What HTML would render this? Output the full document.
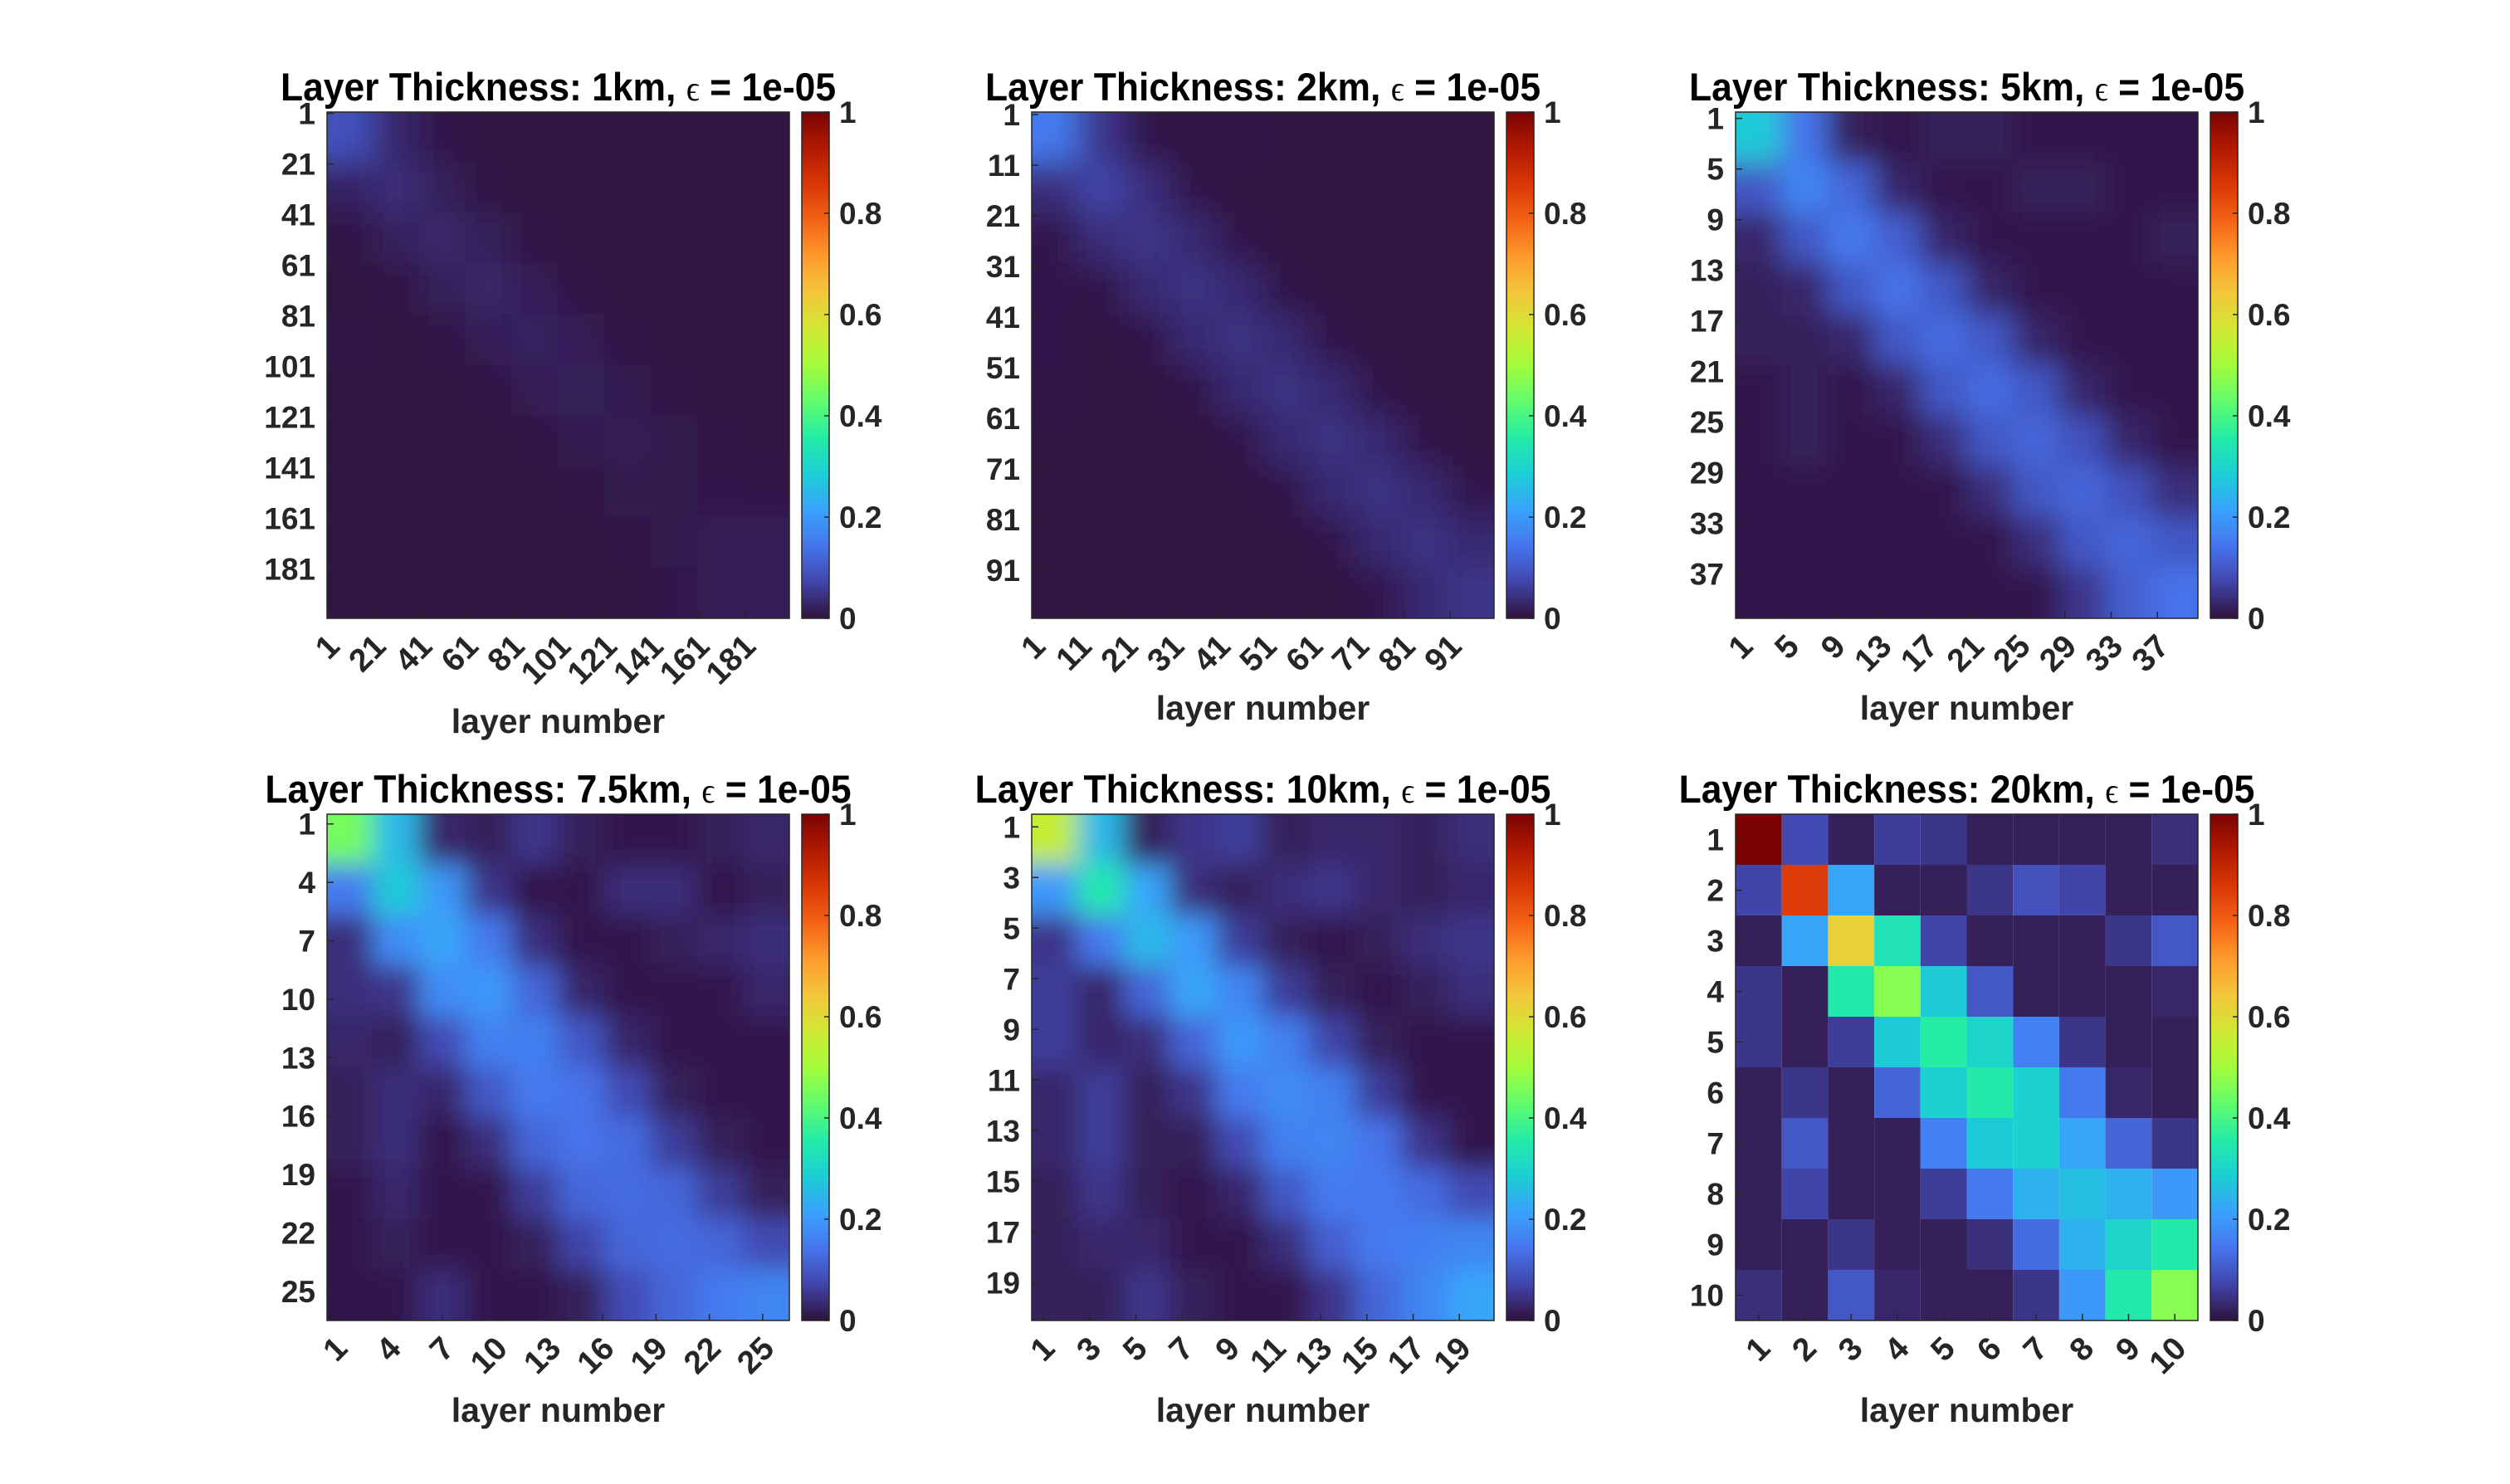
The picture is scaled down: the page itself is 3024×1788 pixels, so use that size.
<!DOCTYPE html>
<html><head><meta charset="utf-8"><style>
html,body{margin:0;padding:0;background:#fff;}
svg{display:block;font-family:"Liberation Sans",Arial,sans-serif;}
</style></head><body>
<svg id="fig" width="3024" height="1788" viewBox="0 0 3024 1788" xmlns="http://www.w3.org/2000/svg">
<defs id="defs"></defs>
</svg>
<script>
// ---- data ----
const titles = ["1km","2km","5km","7.5km","10km","20km"];
const layerCounts = [200,100,40,26,20,10];
const tickLabels1 = [1,21,41,61,81,101,121,141,161,181];
const tickLabels2 = [1,11,21,31,41,51,61,71,81,91];
const tickLabels3 = [1,5,9,13,17,21,25,29,33,37];
const tickLabels4 = [1,4,7,10,13,16,19,22,25];
const tickLabels5y = [1,3,5,7,9,11,13,15,17,19];
const tickLabels5x = [1,3,5,7,9,11,13,15,17,19];
const tickLabels6 = [1,2,3,4,5,6,7,8,9,10];
const cbTicks = [0,0.2,0.4,0.6,0.8,1];
const cbTickLabels = ["0","0.2","0.4","0.6","0.8","1"];

const coarse1 = [
[0.09,0.03,0.008,0.005,0.005,0.005,0.005,0.005,0.005,0.005],
[0.025,0.04,0.02,0.006,0.005,0.005,0.005,0.005,0.005,0.005],
[0.006,0.022,0.03,0.02,0.006,0.005,0.005,0.005,0.005,0.005],
[0.005,0.006,0.02,0.028,0.018,0.006,0.005,0.005,0.005,0.005],
[0.006,0.005,0.006,0.018,0.025,0.016,0.006,0.005,0.005,0.005],
[0.005,0.005,0.005,0.006,0.016,0.02,0.014,0.006,0.005,0.005],
[0.005,0.005,0.005,0.005,0.006,0.014,0.015,0.012,0.006,0.005],
[0.005,0.005,0.005,0.005,0.005,0.006,0.012,0.012,0.01,0.008],
[0.005,0.005,0.005,0.005,0.005,0.005,0.006,0.012,0.016,0.016],
[0.005,0.005,0.005,0.005,0.005,0.005,0.005,0.01,0.016,0.016]];
const coarse2 = [
[0.15,0.05,0.01,0.005,0.01,0.005,0.005,0.005,0.005,0.005],
[0.04,0.07,0.04,0.008,0.005,0.005,0.005,0.005,0.005,0.005],
[0.01,0.04,0.05,0.035,0.008,0.005,0.005,0.005,0.005,0.005],
[0.01,0.008,0.035,0.045,0.035,0.008,0.005,0.005,0.005,0.005],
[0.01,0.005,0.008,0.035,0.045,0.035,0.008,0.005,0.005,0.005],
[0.008,0.005,0.005,0.008,0.035,0.045,0.035,0.008,0.005,0.005],
[0.005,0.005,0.005,0.005,0.008,0.035,0.045,0.035,0.008,0.005],
[0.005,0.005,0.005,0.005,0.005,0.008,0.035,0.045,0.035,0.01],
[0.005,0.005,0.005,0.005,0.005,0.005,0.01,0.035,0.045,0.035],
[0.005,0.005,0.005,0.005,0.005,0.005,0.005,0.01,0.035,0.05]];
const coarse3 = [
[0.28,0.14,0.02,0.01,0.02,0.02,0.01,0.01,0.01,0.01],
[0.10,0.17,0.12,0.03,0.01,0.01,0.02,0.02,0.01,0.01],
[0.03,0.10,0.15,0.11,0.03,0.01,0.01,0.01,0.01,0.02],
[0.02,0.03,0.10,0.14,0.10,0.03,0.01,0.01,0.01,0.01],
[0.02,0.02,0.03,0.10,0.13,0.10,0.03,0.01,0.01,0.01],
[0.01,0.02,0.01,0.03,0.10,0.13,0.10,0.03,0.01,0.01],
[0.01,0.02,0.01,0.01,0.04,0.10,0.12,0.09,0.03,0.01],
[0.01,0.01,0.01,0.01,0.01,0.04,0.10,0.12,0.09,0.04],
[0.01,0.01,0.01,0.01,0.01,0.01,0.04,0.10,0.12,0.10],
[0.01,0.01,0.01,0.01,0.01,0.01,0.01,0.05,0.11,0.14]];
const coarse4 = [
[0.45,0.25,0.03,0.02,0.05,0.02,0.01,0.01,0.02,0.03],
[0.15,0.28,0.20,0.05,0.01,0.01,0.04,0.04,0.01,0.02],
[0.04,0.18,0.22,0.15,0.04,0.01,0.01,0.02,0.03,0.04],
[0.04,0.05,0.18,0.20,0.12,0.03,0.01,0.01,0.01,0.03],
[0.03,0.02,0.08,0.16,0.16,0.10,0.03,0.01,0.01,0.01],
[0.02,0.04,0.03,0.10,0.15,0.14,0.08,0.02,0.01,0.01],
[0.02,0.04,0.01,0.04,0.12,0.14,0.13,0.06,0.02,0.01],
[0.01,0.03,0.01,0.01,0.06,0.12,0.13,0.12,0.06,0.02],
[0.01,0.02,0.01,0.01,0.02,0.07,0.12,0.13,0.12,0.08],
[0.01,0.01,0.04,0.01,0.01,0.02,0.08,0.12,0.15,0.17]];
const coarse5 = [
[0.55,0.25,0.02,0.05,0.06,0.02,0.03,0.03,0.02,0.04],
[0.20,0.35,0.22,0.04,0.02,0.04,0.05,0.03,0.02,0.03],
[0.05,0.15,0.25,0.20,0.06,0.02,0.01,0.02,0.04,0.05],
[0.06,0.03,0.12,0.22,0.17,0.06,0.02,0.01,0.02,0.04],
[0.06,0.03,0.04,0.12,0.20,0.16,0.07,0.02,0.01,0.01],
[0.03,0.06,0.02,0.05,0.15,0.18,0.16,0.06,0.01,0.01],
[0.03,0.06,0.02,0.02,0.08,0.16,0.17,0.14,0.05,0.01],
[0.02,0.05,0.02,0.01,0.03,0.10,0.15,0.15,0.13,0.08],
[0.02,0.03,0.03,0.01,0.01,0.04,0.11,0.15,0.16,0.17],
[0.02,0.02,0.05,0.02,0.01,0.01,0.05,0.12,0.17,0.22]];
const matrix6 = [
[1.00,0.08,0.02,0.06,0.05,0.02,0.02,0.02,0.02,0.04],
[0.07,0.85,0.22,0.02,0.02,0.05,0.09,0.07,0.02,0.02],
[0.02,0.22,0.62,0.33,0.07,0.02,0.02,0.02,0.05,0.10],
[0.05,0.02,0.35,0.47,0.28,0.10,0.02,0.02,0.02,0.03],
[0.05,0.02,0.06,0.28,0.36,0.30,0.16,0.05,0.02,0.02],
[0.02,0.05,0.02,0.12,0.29,0.35,0.29,0.15,0.03,0.02],
[0.02,0.10,0.02,0.02,0.16,0.28,0.29,0.22,0.12,0.05],
[0.02,0.07,0.02,0.02,0.06,0.15,0.24,0.26,0.24,0.20],
[0.02,0.02,0.05,0.02,0.02,0.04,0.13,0.24,0.30,0.35],
[0.04,0.02,0.10,0.03,0.02,0.02,0.05,0.20,0.35,0.47]];

const matrices = [coarse1,coarse2,coarse3,coarse4,coarse5,matrix6];
const yTickSets = [tickLabels1,tickLabels2,tickLabels3,tickLabels4,tickLabels5y,tickLabels6];
const xTickSets = [tickLabels1,tickLabels2,tickLabels3,tickLabels4,tickLabels5x,tickLabels6];
const turboStops = ["#30123b","#4145ab","#4675ed","#39a2fc","#1bcfd4","#24eca6","#61fc6c","#a4fc3b","#d1e834","#f3c63a","#fe9b2d","#f36315","#d93806","#b11901","#7a0402"];

// ---- layout ----
const NS="http://www.w3.org/2000/svg";
const svg=document.getElementById('fig');
const defs=document.getElementById('defs');
const PX=[394,1243,2091], PY=[135,981], PW=557, PH=610;
const blurFrac=[0.35,0.35,0.3,0.28,0.28,0];
function hex2rgb(h){return [parseInt(h.substr(1,2),16),parseInt(h.substr(3,2),16),parseInt(h.substr(5,2),16)];}
const stopsRGB=turboStops.map(hex2rgb);
function cmap(v){v=Math.max(0,Math.min(1,v));const t=v*(stopsRGB.length-1);const i=Math.min(Math.floor(t),stopsRGB.length-2);const f=t-i;const a=stopsRGB[i],b=stopsRGB[i+1];return 'rgb('+[0,1,2].map(k=>Math.round(a[k]+(b[k]-a[k])*f)).join(',')+')';}
function mk(tag,attrs,parent){const e=document.createElementNS(NS,tag);for(const k in attrs)e.setAttribute(k,attrs[k]);(parent||svg).appendChild(e);return e;}

const grad=mk('linearGradient',{id:'cbgrad',x1:0,y1:1,x2:0,y2:0},defs);
turboStops.forEach((c,i)=>mk('stop',{offset:(i/(turboStops.length-1)),'stop-color':c},grad));

for(let p=0;p<6;p++){
  const x0=PX[p%3], y0=PY[Math.floor(p/3)];
  const N=layerCounts[p];
  const M=matrices[p]; const R=M.length, C=M[0].length;
  const g=mk('g',{});
  
  
  const sx=v=>x0+(v/C)*PW, sy=v=>y0+(v/R)*PH;
  const layerX=l=>x0+((l-0.5)/N)*PW, layerY=l=>y0+((l-0.5)/N)*PH;
  const clip=mk('clipPath',{id:'clip'+p},defs);
  mk('rect',{x:x0,y:y0,width:PW,height:PH},clip);
  const cells=mk('g',{'clip-path':'url(#clip'+p+')'},g);
  
  
  let inner=cells;
  if(p<5){
    const cw=PW/C;
    const f=mk('filter',{id:'blur'+p,x:'-20%',y:'-20%',width:'140%',height:'140%'},defs);
    mk('feGaussianBlur',{stdDeviation:(cw*blurFrac[p]).toFixed(1)},f);
    inner=mk('g',{filter:'url(#blur'+p+')'},cells);
  }
  for(let i=0;i<R;i++)for(let j=0;j<C;j++){
    let xa=sx(j), xb=sx(j+1), ya=sy(i), yb=sy(i+1);
    if(p<5){ if(j==0)xa-=80; if(j==C-1)xb+=80; if(i==0)ya-=80; if(i==R-1)yb+=80; xa-=0.5;xb+=0.5;ya-=0.5;yb+=0.5;}
    const r=mk('rect',{x:xa.toFixed(2),y:ya.toFixed(2),width:(xb-xa).toFixed(2),height:(yb-ya).toFixed(2),fill:cmap(M[i][j])},inner);
    
    
  }
  const border=mk('rect',{x:x0,y:y0,width:PW,height:PH,fill:'none',stroke:'#262626','stroke-width':1.5},g);
  
  
  const t=mk('text',{x:x0+PW/2,y:y0-14,'text-anchor':'middle','font-size':47,'font-weight':'bold',fill:'#000'},g);
  
  
  t.innerHTML='Layer Thickness: '+titles[p]+', <tspan font-family="Liberation Serif, serif" font-weight="normal" font-size="42">ϵ</tspan> = 1e-05';
  const tw=t.getComputedTextLength();
  if(tw>0){t.setAttribute('textLength',(tw*0.945).toFixed(1));t.setAttribute('lengthAdjust','spacingAndGlyphs');}
  yTickSets[p].forEach(l=>{
    const y=layerY(l);
    mk('line',{x1:x0,x2:x0+8,y1:y,y2:y,stroke:'#262626','stroke-width':1.5},g);
    const tl=mk('text',{x:x0-14,y:y+13,'text-anchor':'end','font-size':37,'font-weight':'bold',fill:'#262626'},g);
    
    
    tl.textContent=l;
  });
  xTickSets[p].forEach(l=>{
    const x=layerX(l);
    mk('line',{x1:x,x2:x,y1:y0+PH,y2:y0+PH-8,stroke:'#262626','stroke-width':1.5},g);
    const tx=x+16, ty=y0+PH+36;
    const tl=mk('text',{x:tx,y:ty,'text-anchor':'end','font-size':39,'font-weight':'bold',fill:'#262626',transform:'rotate(-45 '+tx+' '+ty+')'},g);
    
    
    tl.textContent=l;
  });
  const xl=mk('text',{x:x0+PW/2,y:y0+PH+(p==0?138:122),'text-anchor':'middle','font-size':41,'font-weight':'bold',fill:'#262626'},g);
  
  
  xl.textContent='layer number';
  const cx=x0+PW+15, cwid=33;
  const cb=mk('rect',{x:cx,y:y0,width:cwid,height:PH,fill:'url(#cbgrad)',stroke:'#262626','stroke-width':1.5},g);
  
  
  cbTicks.forEach((v,k)=>{
    const y=y0+PH-v*PH;
    mk('line',{x1:cx+cwid-6,x2:cx+cwid,y1:y,y2:y,stroke:'#262626','stroke-width':1.5},g);
    const tl=mk('text',{x:cx+cwid+12,y:y+13,'font-size':37,'font-weight':'bold',fill:'#262626'},g);
    
    
    tl.textContent=cbTickLabels[k];
  });
}
</script>
</body></html>
